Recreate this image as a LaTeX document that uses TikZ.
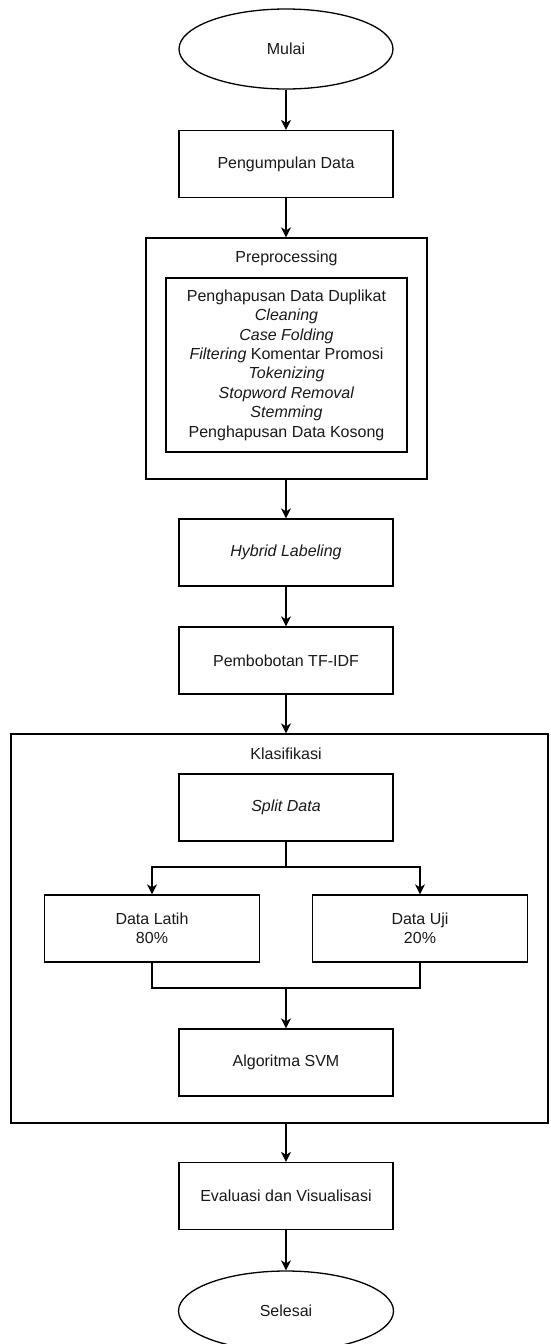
\documentclass[tikz,border=0pt]{standalone}
\usepackage{fontspec}
\setmainfont{Liberation Sans}
\usetikzlibrary{arrows.meta,shapes.geometric}
\tikzset{
  base/.style={draw=black, line width=1.3pt, inner sep=0pt, align=center,
    font=\fontsize{16}{19.4}\selectfont, text=black!90},
  procbox/.style={base, rectangle, minimum width=214pt, minimum height=67pt},
  termin/.style={base, ellipse, minimum width=214pt, minimum height=80pt},
  contbox/.style={base, rectangle},
  lbl/.style={inner sep=0pt, font=\fontsize{16}{19.4}\selectfont, text=black!90},
  arr/.style={draw=black, line width=1.3pt, -{Stealth[length=10pt,width=10pt,inset=3pt]}},
  ln/.style={draw=black, line width=1.3pt}
}
\begin{document}
\begin{tikzpicture}[x=1pt,y=-1pt]
\useasboundingbox (0,0) rectangle (550,1344);
\clip (0,0) rectangle (550,1344);
\fill[white] (0,0) rectangle (550,1344);

\node[termin] (mulai) at (286,49) {Mulai};
\node[procbox] (peng) at (286,164) {Pengumpulan Data};

\node[contbox, minimum width=281pt, minimum height=241pt] (pre) at (286.5,358.5) {};
\node[lbl] (pretitle) at (286.5,258) {Preprocessing};
\node[contbox, minimum width=241pt, minimum height=174pt] (inner) at (286.5,365) {Penghapusan Data Duplikat\\
\textit{Cleaning}\\
\textit{Case Folding}\\
\textit{Filtering} Komentar Promosi\\
\textit{Tokenizing}\\
\textit{Stopword Removal}\\
\textit{Stemming}\\
Penghapusan Data Kosong};

\node[procbox] (hyb) at (286,552.5) {\textit{Hybrid Labeling}};
\node[procbox] (pemb) at (286,660.5) {Pembobotan TF-IDF};

\node[contbox, minimum width=537pt, minimum height=389pt] (klas) at (279.5,928.5) {};
\node[lbl] (klastitle) at (286,754) {Klasifikasi};
\node[procbox] (split) at (286,807.5) {\textit{Split Data}};
\node[procbox, minimum width=215pt] (latih) at (152,928.5) {Data Latih\\80\%};
\node[procbox, minimum width=215pt] (uji) at (420,928.5) {Data Uji\\20\%};
\node[procbox] (svm) at (286,1062.5) {Algoritma SVM};

\node[procbox] (eval) at (286,1196) {Evaluasi dan Visualisasi};
\node[termin, minimum width=215pt] (selesai) at (286,1311) {Selesai};

\coordinate (br) at (286,867);
\coordinate (mg) at (286,988);

\draw[arr] (mulai.south) -- (peng.north);
\draw[arr] (peng.south) -- (peng.south |- pre.north);
\draw[arr] (hyb.north |- pre.south) -- (hyb.north);
\draw[arr] (hyb.south) -- (pemb.north);
\draw[arr] (pemb.south) -- (pemb.south |- klas.north);
\draw[ln] (split.south) -- (br);
\draw[arr] (br) -| (latih.north);
\draw[arr] (br) -| (uji.north);
\draw[ln] (latih.south) |- (mg);
\draw[ln] (uji.south) |- (mg);
\draw[arr] (mg) -- (svm.north);
\draw[arr] (eval.north |- klas.south) -- (eval.north);
\draw[arr] (eval.south) -- (selesai.north);
\end{tikzpicture}
\end{document}
